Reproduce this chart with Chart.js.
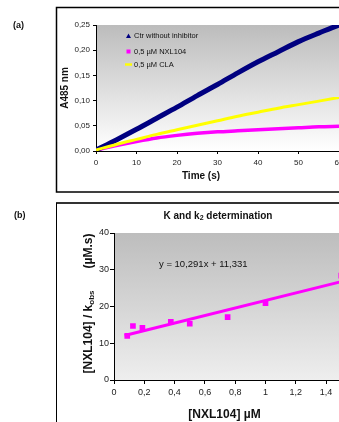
<!DOCTYPE html>
<html lang="en">
<head>
<meta charset="UTF-8">
<title>NXL104 kinetics</title>
<script src="https://cdn.jsdelivr.net/npm/chart.js"></script>
<style>
  body { margin:0; width:339px; height:422px; overflow:hidden; background:#fff; position:relative; }
  .box { position:absolute; left:0; width:400px; }
</style>
</head>
<body>
<div class="box" style="top:0;height:200px"><canvas id="chartA"></canvas></div>
<div class="box" style="top:200px;height:222px"><canvas id="chartB"></canvas></div>
<script>
// ---- (a) absorbance at 485 nm vs time ----
const timeSec  = [0, 5, 10, 15, 20, 25, 30, 35, 40, 45, 50, 55, 60];
const ctrNoInh = [0.002, 0.022, 0.043, 0.065, 0.087, 0.110, 0.132, 0.155, 0.177, 0.197, 0.217, 0.234, 0.250];
const nxl104   = [0.002, 0.011, 0.019, 0.026, 0.031, 0.035, 0.038, 0.040, 0.042, 0.044, 0.046, 0.048, 0.049];
const cla      = [0.002, 0.013, 0.023, 0.033, 0.042, 0.051, 0.060, 0.069, 0.077, 0.085, 0.092, 0.099, 0.106];
const aSeriesNames = ['Ctr without inhibitor', '0,5 \u00b5M NXL104', '0,5 \u00b5M CLA'];
const aYTicks = ['0,00', '0,05', '0,10', '0,15', '0,20', '0,25'];
const aXTicks = ['0', '10', '20', '30', '40', '50', '60'];

// ---- (b) [NXL104]/kobs vs [NXL104] ----
const conc     = [0.0875, 0.125, 0.1875, 0.375, 0.5, 0.75, 1, 1.5];
const ratio    = [12.0, 14.7, 14.2, 15.8, 15.3, 17.1, 20.9, 28.4];
const trendX   = [0.07, 1.6];
const trendY   = [12.1, 27.8];
const equation = 'y = 10,291x + 11,331';
const bXTicks  = ['0', '0,2', '0,4', '0,6', '0,8', '1', '1,2', '1,4', '1,6'];
const bYTicks  = ['0', '10', '20', '30', '40'];

const NAVY = '#000080', MAG = '#ff00ff', YEL = '#ffff00';
Chart.defaults.font.family = 'Arial, "Liberation Sans", sans-serif';
Chart.defaults.color = '#222';

function pts(xs, ys) { return xs.map((x, i) => ({x: x, y: ys[i]})); }

// gradient behind the plot area
const plotBg = {
  id: 'plotBg',
  beforeDraw(chart, args, o) {
    const {ctx, chartArea: a} = chart;
    const g = ctx.createLinearGradient(0, a.top, 0, a.bottom);
    g.addColorStop(0, o.top);
    g.addColorStop(1, o.bottom);
    ctx.save();
    ctx.fillStyle = g;
    ctx.fillRect(a.left, a.top, a.right - a.left, a.bottom - a.top);
    ctx.restore();
  }
};

function txt(ctx, s, x, y, font, align) {
  ctx.font = font;
  ctx.textAlign = align || 'center';
  ctx.textBaseline = 'middle';
  ctx.fillStyle = '#111';
  ctx.fillText(s, x, y);
}

const decoA = {
  id: 'decoA',
  afterDraw(chart) {
    const ctx = chart.ctx;
    ctx.save();
    ctx.strokeStyle = '#000';
    ctx.lineWidth = 1.5;
    ctx.strokeRect(56.5, 7.5, 400, 184.5);
    txt(ctx, '(a)', 13, 26, 'bold 9px Arial', 'left');
    txt(ctx, 'Time (s)', 201, 176, 'bold 10px Arial');
    ctx.save();
    ctx.translate(65, 88);
    ctx.rotate(-Math.PI / 2);
    txt(ctx, 'A485 nm', 0, 0, 'bold 10px Arial');
    ctx.restore();
    // legend inside the plot
    const lx = 128.5, ly = [36, 51.5, 64.5];
    ctx.fillStyle = NAVY;
    ctx.beginPath();
    ctx.moveTo(lx, ly[0] - 2.5); ctx.lineTo(lx + 2.5, ly[0] + 2); ctx.lineTo(lx - 2.5, ly[0] + 2);
    ctx.closePath(); ctx.fill();
    ctx.fillStyle = MAG;
    ctx.fillRect(lx - 2, ly[1] - 2, 4, 4);
    ctx.fillStyle = YEL;
    ctx.fillRect(lx - 3.5, ly[2] - 1.2, 7, 2.4);
    aSeriesNames.forEach((n, i) => txt(ctx, n, 134, ly[i], '7.5px Arial', 'left'));
    ctx.restore();
  }
};

const decoB = {
  id: 'decoB',
  afterDraw(chart) {
    const ctx = chart.ctx;
    ctx.save();
    ctx.strokeStyle = '#333';
    ctx.lineWidth = 2;
    ctx.beginPath(); ctx.moveTo(56, 3); ctx.lineTo(400, 3); ctx.stroke();
    ctx.lineWidth = 1;
    ctx.strokeStyle = '#000';
    ctx.beginPath(); ctx.moveTo(56.5, 3); ctx.lineTo(56.5, 222); ctx.stroke();
    txt(ctx, '(b)', 14, 16, 'bold 9px Arial', 'left');

    // title with subscript 2
    const f1 = 'bold 10px Arial', f2 = 'bold 7px Arial';
    ctx.font = f1; const w1 = ctx.measureText('K and k').width, w3 = ctx.measureText(' determination').width;
    ctx.font = f2; const w2 = ctx.measureText('2').width;
    let x0 = 218 - (w1 + w2 + w3) / 2;
    txt(ctx, 'K and k', x0, 16, f1, 'left');
    txt(ctx, '2', x0 + w1, 18.5, f2, 'left');
    txt(ctx, ' determination', x0 + w1 + w2, 16, f1, 'left');

    txt(ctx, equation, 159, 64, '9.5px Arial', 'left');
    txt(ctx, '[NXL104] \u00b5M', 224.5, 215, 'bold 12px Arial');

    // rotated y title: [NXL104] / k_obs   (µM.s)
    const g1 = 'bold 12px Arial', g2 = 'bold 8px Arial';
    ctx.font = g1; const a1 = ctx.measureText('[NXL104] / k').width, a3 = ctx.measureText('(\u00b5M.s)').width;
    ctx.font = g2; const a2 = ctx.measureText('obs').width;
    const gap = 22, tot = a1 + a2 + gap + a3;
    ctx.save();
    ctx.translate(89, 103.5);
    ctx.rotate(-Math.PI / 2);
    let s = -tot / 2;
    txt(ctx, '[NXL104] / k', s, 0, g1, 'left');
    txt(ctx, 'obs', s + a1, 2.5, g2, 'left');
    txt(ctx, '(\u00b5M.s)', s + a1 + a2 + gap, 0, g1, 'left');
    ctx.restore();
    ctx.restore();
  }
};

const axisStyle = (tickLen) => ({
  grid: { display: true, drawOnChartArea: false, drawTicks: true, tickLength: tickLen, color: '#000' },
  border: { display: true, color: '#000', width: 1 }
});

new Chart(document.getElementById('chartA'), {
  type: 'line',
  data: {
    datasets: [
      { label: aSeriesNames[0], data: pts(timeSec, ctrNoInh), borderColor: NAVY, borderWidth: 5, pointRadius: 0, cubicInterpolationMode: 'monotone', order: 2 },
      { label: aSeriesNames[1], data: pts(timeSec, nxl104), borderColor: MAG, borderWidth: 3.5, pointRadius: 0, cubicInterpolationMode: 'monotone', order: 3 },
      { label: aSeriesNames[2], data: pts(timeSec, cla), borderColor: YEL, borderWidth: 3, pointRadius: 0, cubicInterpolationMode: 'monotone', order: 1 }
    ]
  },
  options: {
    responsive: true, maintainAspectRatio: false, animation: false,
    layout: { padding: { top: 25, right: 61, bottom: 0, left: 0 } },
    plugins: { legend: { display: false }, tooltip: { enabled: false }, plotBg: { top: '#bcbcbc', bottom: '#ffffff' } },
    scales: {
      x: Object.assign({
        type: 'linear', min: 0, max: 60,
        ticks: { stepSize: 10, padding: 4, font: { size: 8 }, maxRotation: 0, callback: (v, i) => aXTicks[i] },
        afterFit: s => { s.height = 49; }
      }, axisStyle(3)),
      y: Object.assign({
        min: 0, max: 0.25,
        ticks: { stepSize: 0.05, padding: 3, font: { size: 8 }, callback: (v, i) => aYTicks[i] },
        afterFit: s => { s.width = 96; }
      }, axisStyle(3))
    }
  },
  plugins: [plotBg, decoA]
});

new Chart(document.getElementById('chartB'), {
  type: 'scatter',
  data: {
    datasets: [
      { type: 'scatter', data: pts(conc, ratio), pointStyle: 'rect', pointRadius: 4, backgroundColor: MAG, borderWidth: 0, order: 1 },
      { type: 'line', data: pts(trendX, trendY), borderColor: MAG, borderWidth: 3, pointRadius: 0, order: 2 }
    ]
  },
  options: {
    responsive: true, maintainAspectRatio: false, animation: false,
    layout: { padding: { top: 33, right: 43.6, bottom: 0, left: 0 } },
    plugins: { legend: { display: false }, tooltip: { enabled: false }, plotBg: { top: '#bdbdbd', bottom: '#eeeeee' } },
    scales: {
      x: Object.assign({
        type: 'linear', min: 0, max: 1.6,
        ticks: { stepSize: 0.2, padding: 3, font: { size: 9 }, maxRotation: 0, callback: (v, i) => bXTicks[i] },
        afterFit: s => { s.height = 42; }
      }, axisStyle(4)),
      y: Object.assign({
        min: 0, max: 40,
        ticks: { stepSize: 10, padding: 1, font: { size: 9 }, callback: (v, i) => bYTicks[i] },
        afterFit: s => { s.width = 114; }
      }, axisStyle(4))
    }
  },
  plugins: [plotBg, decoB]
});
</script>
</body>
</html>
